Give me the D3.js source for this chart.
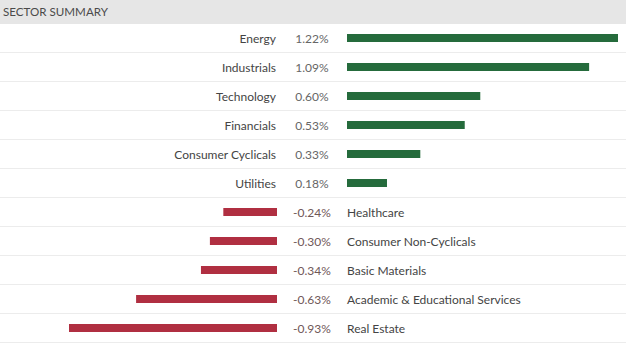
<!DOCTYPE html>
<html lang="en">
<head>
<meta charset="UTF-8">
<title>Sector Summary</title>
<script src="https://cdn.jsdelivr.net/npm/d3@7"></script>
<style>
    body { margin: 0; background: #fff; }
    text { font-family: Lato, "Open Sans", sans-serif; }
</style>
</head>
<body>
<div id="output"></div>
<script>

var sectors = ["Energy", "Industrials", "Technology", "Financials", "Consumer Cyclicals",
    "Utilities", "Healthcare", "Consumer Non-Cyclicals", "Basic Materials",
    "Academic & Educational Services", "Real Estate"];
var changes = [1.22, 1.09, 0.60, 0.53, 0.33, 0.18, -0.24, -0.30, -0.34, -0.63, -0.93];
var valueLabels = ["1.22%", "1.09%", "0.60%", "0.53%", "0.33%", "0.18%",
    "-0.24%", "-0.30%", "-0.34%", "-0.63%", "-0.93%"];

var w = 629;
var h = 351;
var headerH = 24;
var rowH = 29;
var tableW = 626;

var svg = d3.select("#output")
    .append("svg")
    .attr("width", w)
    .attr("height", h);

// header band
svg.append("rect")
    .attr("x", 0).attr("y", 0)
    .attr("width", tableW).attr("height", headerH)
    .attr("fill", "#e6e6e6");
svg.append("text")
    .attr("x", 3).attr("y", 16)
    .attr("font-size", "11.6px")
    .attr("fill", "#4a4a4a")
    .text("SECTOR SUMMARY");

var yScale = d3.scaleBand()
    .domain(sectors)
    .range([headerH, headerH + rowH * sectors.length]);

// positive bars grow right from 347, negative grow left from 277
var posScale = d3.scaleLinear().domain([0, 1.22]).range([347, 618]);
var negScale = d3.scaleLinear().domain([0, -0.93]).range([277, 69]);

var rows = svg.selectAll("g.row")
    .data(sectors)
    .enter()
    .append("g")
    .attr("class", "row")
    .attr("transform", function(d){ return "translate(0," + yScale(d) + ")"; });

rows.append("line")
    .attr("x1", 0).attr("x2", tableW)
    .attr("y1", rowH - 0.5).attr("y2", rowH - 0.5)
    .attr("stroke", "#ececec");

var barH = 8;
rows.append("rect")
    .attr("x", function(d, i){ return changes[i] >= 0 ? posScale(0) : negScale(changes[i]); })
    .attr("y", rowH / 2 - barH / 2 - 0.5)
    .attr("width", function(d, i){
        return changes[i] >= 0 ? posScale(changes[i]) - posScale(0) : negScale(0) - negScale(changes[i]);
    })
    .attr("height", barH)
    .attr("fill", function(d, i){ return changes[i] >= 0 ? "#256b3c" : "#b02f41"; });

rows.append("text")
    .attr("x", function(d, i){ return changes[i] >= 0 ? 276 : 347; })
    .attr("y", rowH / 2 + 4)
    .attr("text-anchor", function(d, i){ return changes[i] >= 0 ? "end" : "start"; })
    .attr("font-size", "12px")
    .attr("fill", "#444")
    .text(function(d){ return d; });

rows.append("text")
    .attr("x", 312)
    .attr("y", rowH / 2 + 4)
    .attr("text-anchor", "middle")
    .attr("font-size", "12px")
    .attr("fill", function(d, i){ return changes[i] >= 0 ? "#666" : "#705858"; })
    .text(function(d, i){ return valueLabels[i]; });

</script>
</body>
</html>
